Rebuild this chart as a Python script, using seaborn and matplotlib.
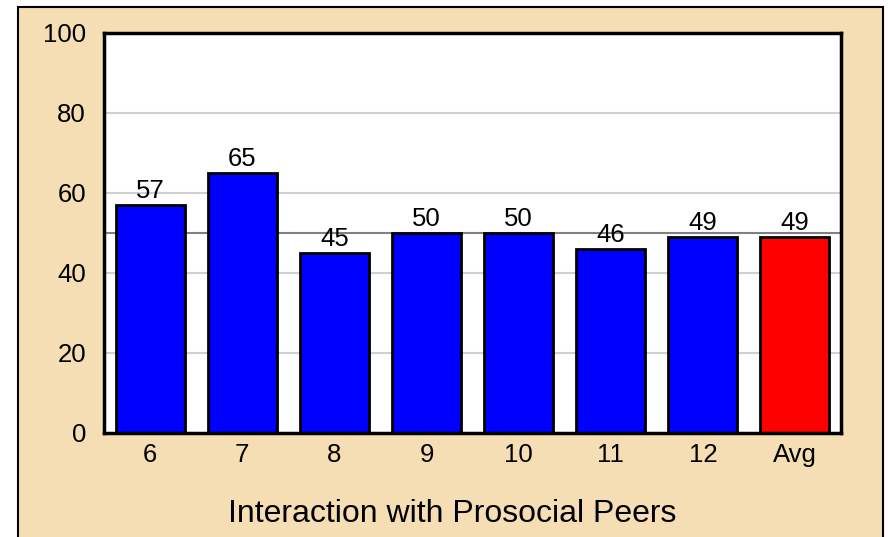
import matplotlib
matplotlib.use("Agg")
import matplotlib.pyplot as plt
import seaborn as sns
import pandas as pd
from matplotlib.patches import Rectangle

# chart data
grades = ["6", "7", "8", "9", "10", "11", "12", "Avg"]
scores = [57, 65, 45, 50, 50, 46, 49, 49]
bar_colors = ["#0000FF"] * 7 + ["#FF0000"]
y_ticks = [0, 20, 40, 60, 80, 100]
ref_line = 50
x_title = "Interaction with Prosocial Peers"

sns.set_theme(style="white")
plt.rcParams["font.family"] = ["Liberation Sans", "DejaVu Sans"]

df = pd.DataFrame({"grade": grades, "score": scores})

fig = plt.figure(figsize=(8.88, 5.37), dpi=100, facecolor="white")

# tan panel behind everything
panel = Rectangle((18 / 888, -0.05), (883 - 18) / 888, 1.05 - 7 / 537,
                  transform=fig.transFigure, facecolor="#F5DEB3",
                  edgecolor="black", linewidth=1.5, zorder=-5)
fig.patches.append(panel)

ax = fig.add_axes([104 / 888, 1 - 433 / 537, (841 - 104) / 888, 400 / 537])
ax.set_facecolor("white")
ax.set_zorder(1)

# gridlines behind bars
for t in y_ticks[1:-1]:
    ax.axhline(t, color="#D0D0D0", linewidth=1.5, zorder=0)
ax.axhline(ref_line, color="#808080", linewidth=1.5, zorder=0.5)

sns.barplot(data=df, x="grade", y="score", hue="grade", palette=bar_colors,
            legend=False, edgecolor="black", linewidth=2, width=0.75,
            saturation=1, ax=ax, zorder=2)

for i, v in enumerate(scores):
    ax.text(i, v + 0.4, str(v), ha="center", va="bottom", fontsize=18.5,
            color="black", zorder=3)

ax.set_ylim(0, 100)
ax.set_xlim(-0.5, len(grades) - 0.5)
ax.set_yticks(y_ticks)
ax.tick_params(axis="both", length=0, labelsize=18.5, colors="black")
ax.tick_params(axis="y", pad=13)
ax.tick_params(axis="x", pad=7)
ax.set_xlabel("")
ax.set_ylabel("")
for s in ax.spines.values():
    s.set_visible(True)
    s.set_color("black")
    s.set_linewidth(2.5)

fig.text(452 / 888, 1 - 514 / 537, x_title, ha="center", va="center",
         fontsize=23, color="black", zorder=2)

fig.savefig("out.png", dpi=100, facecolor=fig.get_facecolor())
